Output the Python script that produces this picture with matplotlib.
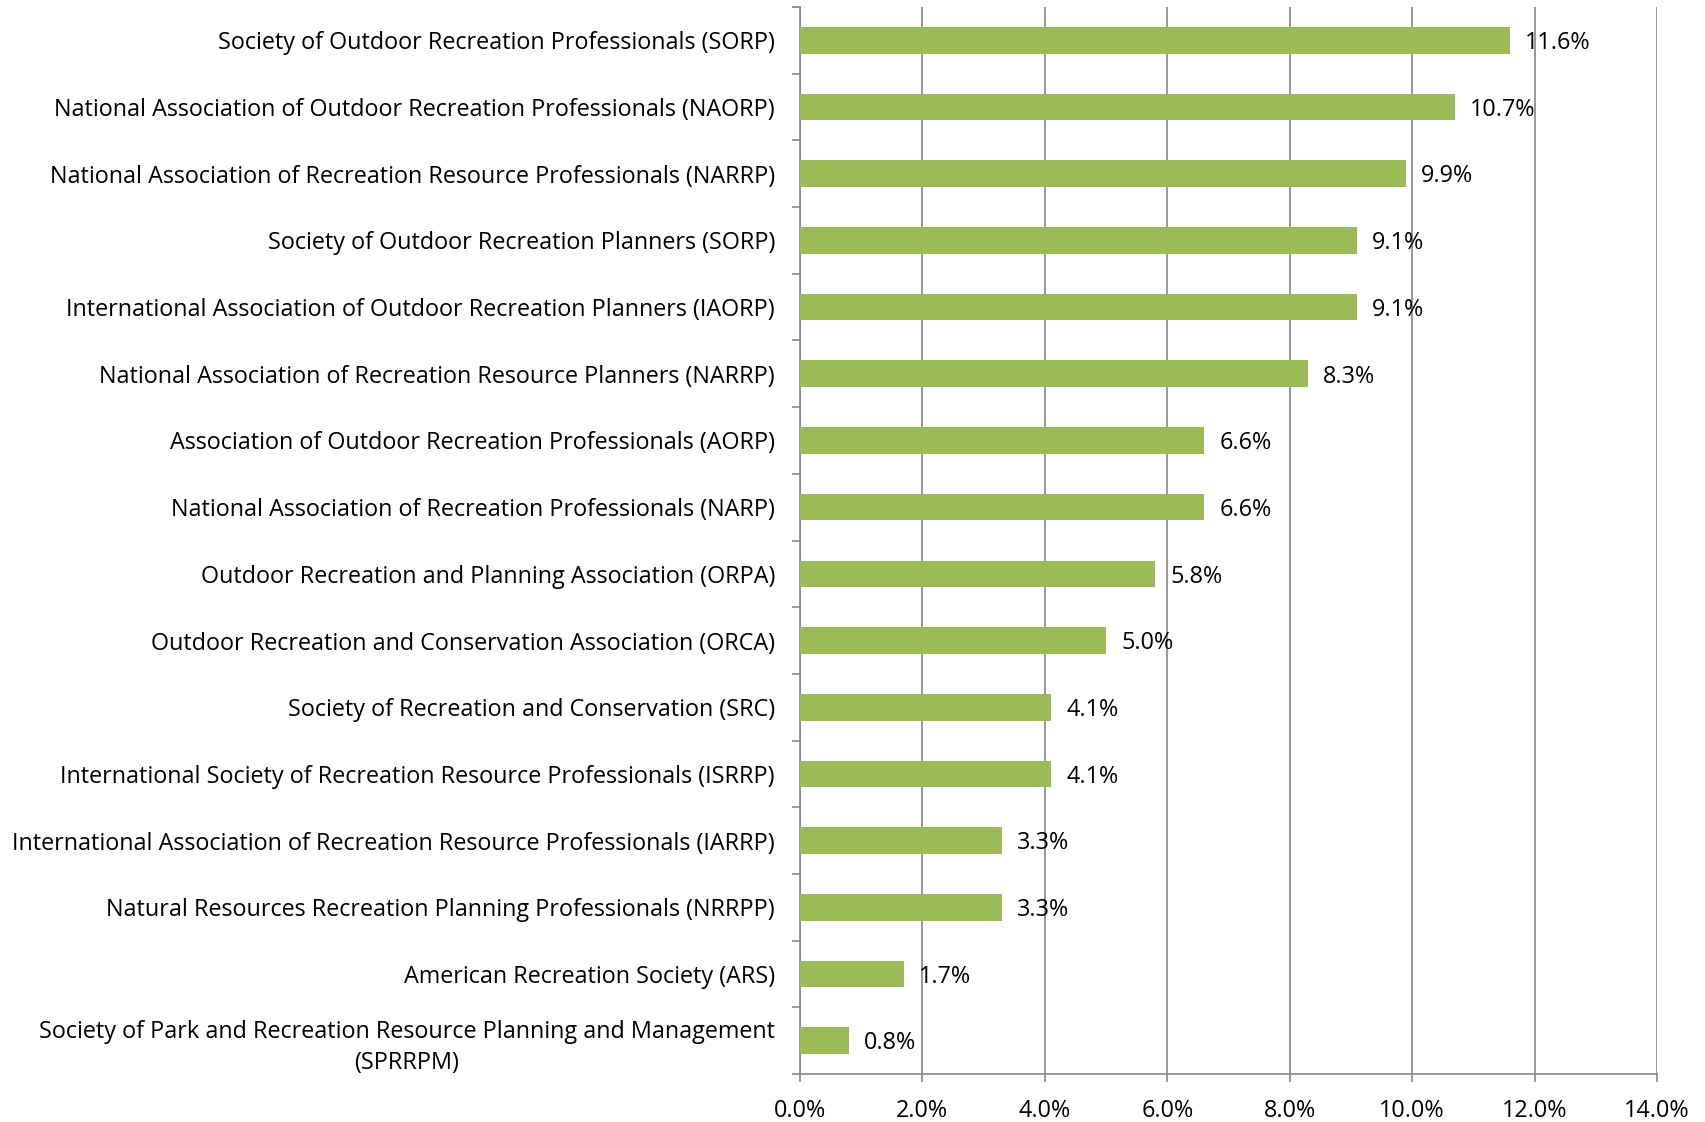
import matplotlib
matplotlib.use("Agg")
import matplotlib.pyplot as plt
from matplotlib.ticker import FixedLocator, FuncFormatter

categories = [
    "Society of Outdoor Recreation Professionals (SORP)",
    "National Association of Outdoor Recreation Professionals (NAORP)",
    "National Association of Recreation Resource Professionals (NARRP)",
    "Society of Outdoor Recreation Planners (SORP)",
    "International Association of Outdoor Recreation Planners (IAORP)",
    "National Association of Recreation Resource Planners (NARRP)",
    "Association of Outdoor Recreation Professionals (AORP)",
    "National Association of Recreation Professionals (NARP)",
    "Outdoor Recreation and Planning Association (ORPA)",
    "Outdoor Recreation and Conservation Association (ORCA)",
    "Society of Recreation and Conservation (SRC)",
    "International Society of Recreation Resource Professionals (ISRRP)",
    "International Association of Recreation Resource Professionals (IARRP)",
    "Natural Resources Recreation Planning Professionals (NRRPP)",
    "American Recreation Society (ARS)",
    "Society of Park and Recreation Resource Planning and Management\n(SPRRPM)",
]
values = [11.6, 10.7, 9.9, 9.1, 9.1, 8.3, 6.6, 6.6, 5.8, 5.0, 4.1, 4.1, 3.3, 3.3, 1.7, 0.8]
x_ticks = [0, 2, 4, 6, 8, 10, 12, 14]

plt.rcParams['font.family'] = ['Open Sans', 'DejaVu Sans']

fig = plt.figure(figsize=(17.05, 11.22), dpi=100)
ax = fig.add_axes([800/1705, 1 - 1074/1122, (1657-800)/1705, (1074-7)/1122])

FS = 16.8
ypos = list(range(len(categories)))
bars = ax.barh(ypos, values, height=0.4, color="#9BBB59", zorder=3)
for y, v in zip(ypos, values):
    ax.annotate(f"{v:.1f}%", xy=(v, y), xytext=(11, -2), textcoords="offset points",
                ha="left", va="center", fontsize=FS, color="black", zorder=4)

ax.set_xlim(0, 14)
ax.set_ylim(len(categories) - 0.5, -0.5)
ax.set_xticks(x_ticks)
ax.xaxis.set_major_formatter(FuncFormatter(lambda v, p: f"{v:.1f}%"))
ax.set_yticks(ypos)
ax.set_yticklabels(categories, multialignment="center", linespacing=1.4)
ax.yaxis.set_minor_locator(FixedLocator([i - 0.5 for i in range(len(categories) + 1)]))

ax.tick_params(axis="y", which="major", length=0, pad=18, labelsize=FS)
ax.tick_params(axis="y", which="minor", length=6, width=1.2, color="#868686")
ax.tick_params(axis="x", which="major", length=6, width=1.2, color="#868686", pad=12, labelsize=FS)

ax.grid(axis="x", color="#868686", linewidth=1.2, zorder=0)
for s in ["top", "right"]:
    ax.spines[s].set_visible(False)
for s in ["left", "bottom"]:
    ax.spines[s].set_color("#868686")
    ax.spines[s].set_linewidth(1.2)

fig.savefig("out.png", dpi=100)
